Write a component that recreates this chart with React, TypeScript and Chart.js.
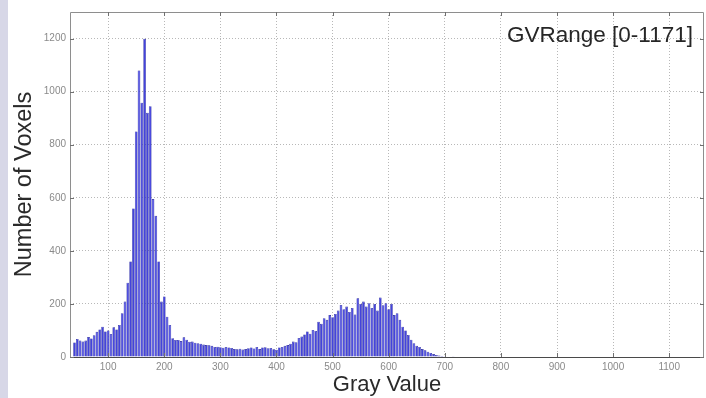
import { useEffect, useRef } from "react";
import { Chart, registerables } from "chart.js";

Chart.register(...registerables);

// Histogram bins (gray-value bin centres start at BIN_START, step BIN_WIDTH)
const BIN_START = 40;
const BIN_WIDTH = 5;
const COUNTS = [
  55, 68, 62, 58, 62, 75, 70, 82, 95, 104, // 40-85
  114, 96, 100, 87, 112, 104, 121, 165, 209, 280, // 90-135
  360, 560, 850, 1080, 958, 1199, 920, 945, 595, 532, // 140-185
  360, 209, 228, 152, 121, 71, 64, // 190-220
  64, 60, 74, 65, 57, 58, 54, 52, 50, 47, // 225-270
  45, 44, 42, 38, 39, 37, 35, 38, 36, 34, // 275-320
  30, 29, 31, 28, 30, 33, 36, 32, 38, 30, // 325-370
  36, 37, 33, 34, 29, 27, 36, 38, 42, 45, // 375-420
  50, 58, 56, 72, 77, 85, 96, 88, 102, 98, // 425-470
  133, 125, 146, 140, 158, 150, 162, 175, 196, 180, // 475-520
  190, 170, 185, 160, 221, 200, 209, 190, 203, 185, // 525-570
  200, 175, 224, 195, 203, 180, 200, 158, 165, 140, // 575-620
  114, 100, 83, 65, 52, 42, 38, 30, 25, 20, // 625-670
  15, 11, 8, 6, 4, 3, 2, 2, 1, // 675-715
];

const X_TICKS = [100, 200, 300, 400, 500, 600, 700, 800, 900, 1000, 1100];
const Y_TICKS = [0, 200, 400, 600, 800, 1000, 1200];
const X_MIN = 32;
const X_MAX = 1162;
const Y_MIN = 0;
const Y_MAX = 1300;
const X_TITLE = "Gray Value";
const Y_TITLE = "Number of Voxels";
const RANGE_LABEL = "GVRange [0-1171]";

const FONT = "'Liberation Sans', Arial, Helvetica, sans-serif";

export default function App() {
  const ref = useRef<HTMLCanvasElement>(null);

  useEffect(() => {
    document.body.style.margin = "0";
    const canvas = ref.current;
    if (!canvas) return;

    const points = COUNTS.map((c, i) => ({ x: BIN_START + i * BIN_WIDTH, y: c }));

    const background = {
      id: "bg",
      beforeDraw(chart: any) {
        const ctx = chart.ctx;
        ctx.save();
        ctx.fillStyle = "#ffffff";
        ctx.fillRect(0, 0, chart.width, chart.height);
        ctx.fillStyle = "#d7d7e7";
        ctx.fillRect(0, 0, 8, chart.height);
        ctx.restore();
      },
    };

    const frame = {
      id: "frame",
      afterDraw(chart: any) {
        const ctx = chart.ctx;
        const { left, right, top, bottom } = chart.chartArea;
        const xs = chart.scales.x;
        const ys = chart.scales.y;
        ctx.save();
        ctx.lineWidth = 1;
        ctx.strokeStyle = "#8e8e8e";
        ctx.beginPath();
        ctx.moveTo(left + 0.5, bottom);
        ctx.lineTo(left + 0.5, top + 0.5);
        ctx.lineTo(right - 0.5, top + 0.5);
        ctx.lineTo(right - 0.5, bottom);
        ctx.stroke();
        ctx.strokeStyle = "#4a4a4a";
        ctx.beginPath();
        ctx.moveTo(left, bottom + 0.5);
        ctx.lineTo(right, bottom + 0.5);
        ctx.stroke();
        // inner tick marks
        ctx.strokeStyle = "#707070";
        ctx.beginPath();
        X_TICKS.forEach((v) => {
          const px = Math.round(xs.getPixelForValue(v)) + 0.5;
          ctx.moveTo(px, bottom);
          ctx.lineTo(px, bottom - 4);
          ctx.moveTo(px, top);
          ctx.lineTo(px, top + 4);
        });
        Y_TICKS.forEach((v) => {
          const py = Math.round(ys.getPixelForValue(v)) + 0.5;
          ctx.moveTo(left, py);
          ctx.lineTo(left + 4, py);
          ctx.moveTo(right, py);
          ctx.lineTo(right - 4, py);
        });
        ctx.stroke();
        // range label
        ctx.fillStyle = "#262626";
        ctx.font = `22.5px ${FONT}`;
        ctx.textAlign = "left";
        ctx.textBaseline = "alphabetic";
        ctx.fillText(RANGE_LABEL, 507, 42);
        ctx.restore();
      },
    };

    const chart = new Chart(canvas, {
      type: "bar",
      data: {
        datasets: [
          {
            data: points as any,
            backgroundColor: "#4343dc",
            borderColor: "#1e1e98",
            borderWidth: 0.6,
            barPercentage: 0.95,
            categoryPercentage: 1,
          },
        ],
      },
      options: {
        animation: false,
        responsive: false,
        devicePixelRatio: 1,
        layout: { padding: { left: 8, top: 12, right: 2, bottom: 0 } },
        plugins: { legend: { display: false }, tooltip: { enabled: false } },
        scales: {
          x: {
            type: "linear",
            offset: false,
            min: X_MIN,
            max: X_MAX,
            afterBuildTicks: (s: any) => {
              s.ticks = X_TICKS.map((v) => ({ value: v }));
            },
            afterFit: (s: any) => {
              s.height = 41;
            },
            grid: { color: "#b8b8b8", drawTicks: false, lineWidth: 1, offset: false },
            border: { display: false, dash: [1, 2] },
            ticks: {
              font: { size: 10, family: FONT },
              color: "#8a8a8a",
              padding: 4,
              maxRotation: 0,
              autoSkip: false,
              callback: (v: any) => String(v),
            },
            title: {
              display: true,
              text: X_TITLE,
              font: { size: 22, family: FONT },
              color: "#2a2a2a",
              padding: { top: 0, bottom: 0 },
            },
          },
          y: {
            min: Y_MIN,
            max: Y_MAX,
            afterBuildTicks: (s: any) => {
              s.ticks = Y_TICKS.map((v) => ({ value: v }));
            },
            afterFit: (s: any) => {
              s.width = 62;
            },
            grid: { color: "#b8b8b8", drawTicks: false, lineWidth: 1 },
            border: { display: false, dash: [1, 2] },
            ticks: {
              font: { size: 10, family: FONT },
              color: "#8a8a8a",
              padding: 4,
              callback: (v: any) => String(v),
            },
            title: {
              display: true,
              text: Y_TITLE,
              font: { size: 23.5, family: FONT },
              color: "#2a2a2a",
              padding: { top: 2, bottom: 0 },
            },
          },
        },
      },
      plugins: [background, frame],
    });

    return () => chart.destroy();
  }, []);

  return (
    <div style={{ width: 706, height: 398 }}>
      <canvas ref={ref} width={706} height={398} style={{ display: "block" }} />
    </div>
  );
}
